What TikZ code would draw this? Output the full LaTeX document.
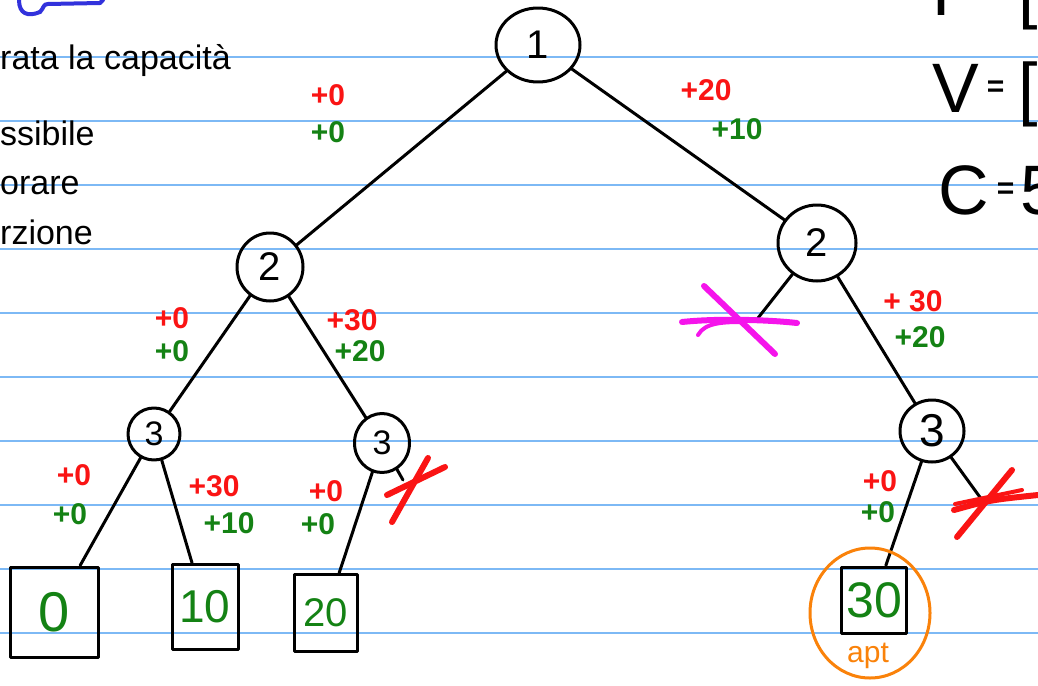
\documentclass[tikz,border=0pt]{standalone}
\usepackage{fontspec}
\setmainfont{Liberation Sans}
\usetikzlibrary{shapes.geometric}
\definecolor{rule}{RGB}{125,185,245}
\definecolor{hred}{RGB}{250,20,20}
\definecolor{hgreen}{RGB}{20,130,20}
\definecolor{hpink}{RGB}{245,20,235}
\definecolor{horange}{RGB}{250,130,10}
\definecolor{hblue}{RGB}{50,50,220}
\newcommand{\smeq}{\raisebox{16pt}{\fontsize{30}{30}\selectfont\bfseries =}}
\begin{document}
\begin{tikzpicture}[x=1pt,y=-1pt,
 ink/.style={line width=3pt,line cap=round,line join=round},
 state/.style={ellipse,draw,ink,inner sep=0pt,font=\fontsize{40}{40}\selectfont},
 leaf/.style={rectangle,draw,ink,inner sep=0pt,text=hgreen},
 rl/.style={text=hred,font=\fontsize{30}{30}\selectfont\bfseries,inner sep=0pt},
 gl/.style={text=hgreen,font=\fontsize{30}{30}\selectfont\bfseries,inner sep=0pt},
 note/.style={font=\fontsize{34}{34}\selectfont,inner sep=0pt,anchor=base west},
 big/.style={font=\fontsize{70}{70}\selectfont,inner sep=0pt,anchor=base west},
 cross/.style={line width=6pt,line cap=round},
]
\useasboundingbox (0,0) rectangle (1038,685);
\fill[white] (0,0) rectangle (1038,685);
\foreach \k in {0,...,9} \draw[rule,line width=2pt] (0,57+64*\k) -- (1038,57+64*\k);

% blue hook top-left
\draw[hblue,line width=4pt,line cap=round] (19,0) .. controls (19,14) and (28,17) .. (40,12);
\draw[hblue,line width=4pt,line cap=round] (40,12) .. controls (44,8) and (43,4) .. (48,4) -- (100,3) -- (103,0);

% notes
\node[note] (n1) at (0,70) {rata la capacità};
\node[note] (n2) at (0,145) {ssibile};
\node[note] (n3) at (0,194) {orare};
\node[note] (n4) at (0,244) {rzione};
\node[big] (pp) at (932,16) {P\hspace{8pt}\smeq\hspace{14pt}[};
\node[big] (vv) at (932,112) {V\hspace{8pt}\smeq\hspace{14pt}[};
\node[big] (cc) at (938,214) {C\hspace{8pt}\smeq\hspace{6pt}5};

% states
\node[state,minimum width=84pt,minimum height=74pt] (r) at (538,45) {1};
\node[state,minimum width=66pt,minimum height=68pt] (l2) at (270,267) {2};
\node[state,minimum width=78pt,minimum height=76pt] (r2) at (817,243) {2};
\node[state,minimum width=52pt,minimum height=52pt,font=\fontsize{34}{34}\selectfont] (ll3) at (154,434) {3};
\node[state,minimum width=55pt,minimum height=59pt,font=\fontsize{34}{34}\selectfont] (lr3) at (382,443) {3};
\node[state,minimum width=64pt,minimum height=62pt,font=\fontsize{46}{46}\selectfont] (r3) at (932,431) {3};

% leaves
\node[leaf,minimum width=88pt,minimum height=90pt,font=\fontsize{56}{56}\selectfont] (b0) at (54,612) {0};
\node[leaf,minimum width=66pt,minimum height=85pt,font=\fontsize{46}{46}\selectfont] (b10) at (205,607) {10};
\node[leaf,minimum width=63pt,minimum height=77pt,font=\fontsize{40}{40}\selectfont] (b20) at (326,613) {20};
\node[leaf,minimum width=65pt,minimum height=66pt,font=\fontsize{50}{50}\selectfont] (b30) at (874,600) {30};

% cut ends
\coordinate (pk) at (758,318);
\coordinate (lrx) at (403,480);
\coordinate (rx) at (982,500);

% edges
\draw[ink] (r) -- (l2);
\draw[ink] (r) -- (r2);
\draw[ink] (l2) -- (ll3);
\draw[ink] (l2) -- (lr3);
\draw[ink] (r2) -- (pk);
\draw[ink] (r2) -- (r3);
\draw[ink] (ll3) -- (b0);
\draw[ink] (ll3) -- (b10);
\draw[ink] (lr3) -- (b20);
\draw[ink] (lr3) -- (lrx);
\draw[ink] (r3) -- (b30);
\draw[ink] (r3) -- (rx);

% labels
\node[rl] (a1) at (328,95) {+0};
\node[gl] (a2) at (328,132) {+0};
\node[rl] (a3) at (706,90) {+20};
\node[gl] (a4) at (737,129) {+10};
\node[rl] (a5) at (172,318) {+0};
\node[gl] (a6) at (172,351) {+0};
\node[rl] (a7) at (352,320) {+30};
\node[gl] (a8) at (360,351) {+20};
\node[rl] (a9) at (913,301) {+ 30};
\node[gl] (a10) at (920,337) {+20};
\node[rl] (a11) at (74,475) {+0};
\node[gl] (a12) at (70,514) {+0};
\node[rl] (a13) at (214,486) {+30};
\node[gl] (a14) at (229,523) {+10};
\node[rl] (a15) at (326,491) {+0};
\node[gl] (a16) at (318,524) {+0};
\node[rl] (a17) at (880,481) {+0};
\node[gl] (a18) at (878,512) {+0};

% crosses
\draw[hpink,cross] (704,286) -- (775,354);
\draw[hpink,cross] (682,322) .. controls (720,318) and (770,320) .. (797,323);
\draw[hpink,line width=4pt,line cap=round] (698,335) .. controls (705,322) and (725,322) .. (745,322);
\draw[hred,cross] (428,458) -- (392,522);
\draw[hred,cross] (387,495) -- (445,467);
\draw[hred,cross] (1012,470) -- (957,537);
\draw[hred,cross] (954,510) .. controls (990,500) .. (1038,495);
\draw[hred,line width=4pt,line cap=round] (955,504) -- (1022,490);

% optimum
\node[ellipse,draw=horange,line width=3pt,minimum width=120pt,minimum height=130pt] (opt) at (870,613) {};
\node[text=horange,font=\fontsize{30}{30}\selectfont,inner sep=0pt] (apt) at (868,656) {apt};
\end{tikzpicture}
\end{document}
